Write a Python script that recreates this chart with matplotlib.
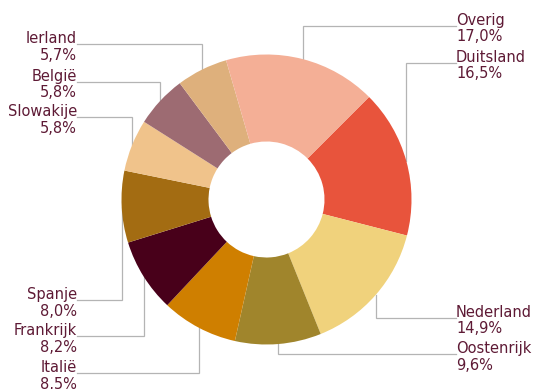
import numpy as np
import matplotlib
matplotlib.use("Agg")
import matplotlib.pyplot as plt

# ---- data ----
countries = ["Duitsland", "Nederland", "Oostenrijk", "Italië", "Frankrijk",
             "Spanje", "Slowakije", "België", "Ierland", "Overig"]
shares = [16.5, 14.9, 9.6, 8.5, 8.2, 8.0, 5.8, 5.8, 5.7, 17.0]
colors = ["#E8543C", "#F0D27C", "#A0852C", "#CF7F00", "#48001A",
          "#A36C12", "#F0C38B", "#9D6B72", "#DEB07C", "#F4AF96"]

# ---- layout (pixel space, y measured from top) ----
W, H = 534, 389
cx, cy_top, R = 266.5, 199.5, 145
hole = 0.60  # wedge width fraction
side = ["R", "R", "R", "L", "L", "L", "L", "L", "L", "R"]
label_y = [62.7, 317.7, 354.0, 373.3, 336.0, 300.0, 117.3, 81.7, 44.0, 25.7]
left_x, right_x = 77, 456
txt_color = "#5E1A35"
line_color = "#B4B4B4"

fig = plt.figure(figsize=(W / 100, H / 100), dpi=100)
ax = fig.add_axes([0, 0, 1, 1])
ax.set_xlim(0, W)
ax.set_ylim(0, H)
ax.set_aspect("equal")
ax.axis("off")

cy = H - cy_top
wedges, _ = ax.pie(shares, colors=colors, startangle=45, counterclock=False,
                   center=(cx, cy), radius=R,
                   wedgeprops=dict(width=R * hole, linewidth=0))
ax.set_xlim(0, W)
ax.set_ylim(0, H)

for w, name, val, s, ly in zip(wedges, countries, shares, side, label_y):
    ang = np.deg2rad((w.theta1 + w.theta2) / 2)
    px = cx + R * np.cos(ang)
    py = cy + R * np.sin(ang)
    yd = H - ly
    tx = right_x if s == "R" else left_x
    ax.plot([px, px, tx], [py, yd, yd], color=line_color, lw=0.9,
            solid_joinstyle="miter", zorder=0)
    ha = "left" if s == "R" else "right"
    ax.text(tx, yd + 1, name, ha=ha, va="baseline", fontsize=10.5,
            color=txt_color, family="DejaVu Sans")
    ax.text(tx, yd + 1 - 16.5, f"{val:.1f}".replace(".", ",") + "%", ha=ha,
            va="baseline", fontsize=10.5, color=txt_color, family="DejaVu Sans")

fig.savefig("out.png", dpi=100)
